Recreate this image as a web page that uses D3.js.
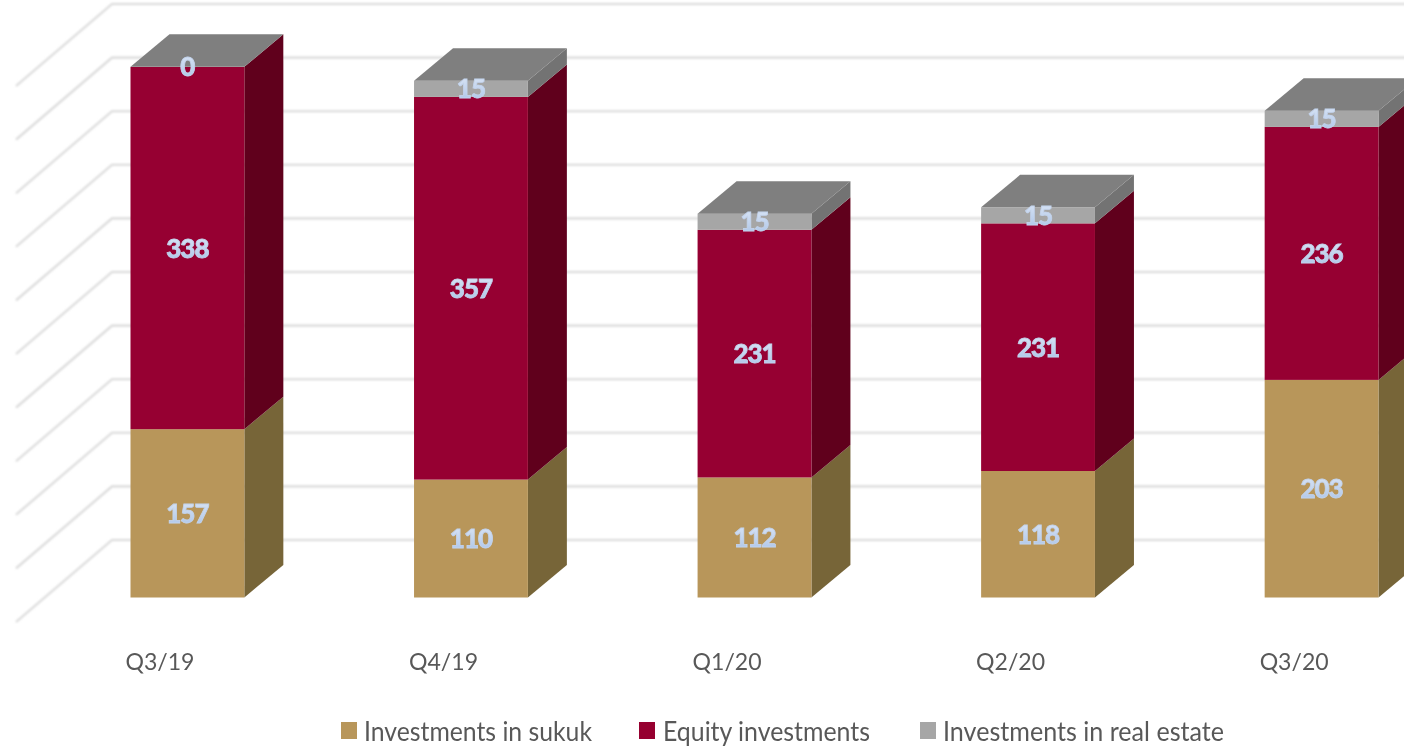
<!DOCTYPE html>
<html>
<head>
<meta charset="utf-8">
<script src="https://cdn.jsdelivr.net/npm/d3@7"></script>
<style>
  html, body { margin: 0; padding: 0; background: #fff; overflow: hidden; }
  svg { display: block; font-family: Lato, "Open Sans", sans-serif; }
</style>
</head>
<body>
<svg id="chart" width="1404" height="747"></svg>
<script>
var quarters = ["Q3/19", "Q4/19", "Q1/20", "Q2/20", "Q3/20"];
var sukuk = [157, 110, 112, 118, 203];
var equity = [338, 357, 231, 231, 236];
var realEstate = [0, 15, 15, 15, 15];
var seriesNames = ["Investments in sukuk", "Equity investments", "Investments in real estate"];
var gridTicks = [0, 50, 100, 150, 200, 250, 300, 350, 400, 450, 500];

var frontColors = ["#b8965a", "#960030", "#a6a6a6"];
var sideColors = ["#776539", "#60001c", "#737373"];
var topColor = "#7f7f7f";

var svg = d3.select("#chart");
var defs = svg.append("defs");

var grad = defs.append("linearGradient")
  .attr("id", "labelFill")
  .attr("x1", 0).attr("y1", 0).attr("x2", 0).attr("y2", 1);
grad.append("stop").attr("offset", "0%").attr("stop-color", "#dfe8f6");
grad.append("stop").attr("offset", "100%").attr("stop-color", "#a9c3e8");

defs.append("filter").attr("id", "soft")
  .append("feGaussianBlur").attr("stdDeviation", 0.6);
defs.append("filter").attr("id", "softer")
  .append("feGaussianBlur").attr("stdDeviation", 0.8);
defs.append("filter").attr("id", "softText")
  .append("feGaussianBlur").attr("stdDeviation", 0.35);

// bars sit on a plane in front of the back wall, so depth is a fixed offset
var barDepth = {dx: 39, dy: -32.5};
var wall = {dx: 96, dy: -82, left: 16, floorOffset: 24.5};

var x = d3.scaleBand()
  .domain(quarters)
  .range([130.5, 1378.5])
  .paddingInner(0.5985)
  .paddingOuter(0);

var y = d3.scaleLinear()
  .domain([0, 500])
  .range([597.5, 61.5]);

var rows = quarters.map(function(q, i) {
  return {quarter: q, sukuk: sukuk[i], equity: equity[i], realEstate: realEstate[i]};
});
var stacked = d3.stack().keys(["sukuk", "equity", "realEstate"])(rows);

// gridlines: slanted side wall plus the back wall running off to the right
var grid = svg.append("g").attr("filter", "url(#softer)");
grid.selectAll("path")
  .data(gridTicks)
  .enter().append("path")
  .attr("fill", "none")
  .attr("stroke", "#d9d9d9")
  .attr("stroke-width", 2.1)
  .attr("d", function(d) {
    var front = y(d) + wall.floorOffset;
    return "M" + wall.left + "," + front +
      "L" + (wall.left + wall.dx) + "," + (front + wall.dy) +
      "H1420";
  });

var bars = svg.append("g").attr("filter", "url(#soft)");

stacked.forEach(function(layer, s) {
  var g = bars.append("g");

  // right side face
  g.selectAll(".side")
    .data(layer)
    .enter().append("path")
    .attr("class", "side")
    .attr("fill", sideColors[s])
    .attr("d", function(d) {
      var r = x(d.data.quarter) + x.bandwidth();
      return "M" + r + "," + y(d[0]) +
        "L" + (r + barDepth.dx) + "," + (y(d[0]) + barDepth.dy) +
        "V" + (y(d[1]) + barDepth.dy) +
        "L" + r + "," + y(d[1]) + "Z";
    });

  // front face
  g.selectAll(".front")
    .data(layer)
    .enter().append("rect")
    .attr("class", "front")
    .attr("fill", frontColors[s])
    .attr("x", function(d) { return x(d.data.quarter); })
    .attr("y", function(d) { return y(d[1]); })
    .attr("width", x.bandwidth())
    .attr("height", function(d) { return y(d[0]) - y(d[1]); });
});

// top face of each column
bars.append("g").selectAll("path")
  .data(stacked[2])
  .enter().append("path")
  .attr("fill", topColor)
  .attr("d", function(d) {
    var l = x(d.data.quarter), w = x.bandwidth(), t = y(d[1]);
    return "M" + l + "," + t +
      "L" + (l + barDepth.dx) + "," + (t + barDepth.dy) +
      "H" + (l + w + barDepth.dx) +
      "L" + (l + w) + "," + t + "Z";
  });

// value labels
stacked.forEach(function(layer) {
  svg.append("g").attr("filter", "url(#softText)").selectAll("text")
    .data(layer)
    .enter().append("text")
    .attr("x", function(d) { return x(d.data.quarter) + x.bandwidth() / 2; })
    .attr("y", function(d) { return (y(d[0]) + y(d[1])) / 2 + 0.5; })
    .attr("dy", "0.35em")
    .attr("text-anchor", "middle")
    .attr("font-size", 26)
    .attr("font-weight", 900)
    .attr("letter-spacing", -1)
    .attr("fill", "url(#labelFill)")
    .attr("stroke", "#c3d3ec")
    .attr("stroke-width", 0.8)
    .text(function(d) { return d[1] - d[0]; });
});

// category labels are offset to the left of the bars, as in the source
var axisText = svg.append("g").attr("filter", "url(#softText)");
axisText.selectAll("text")
  .data(quarters)
  .enter().append("text")
  .attr("x", function(d) { return x(d) + 29.5; })
  .attr("y", 670)
  .attr("text-anchor", "middle")
  .attr("font-size", 24)
  .attr("textLength", 69)
  .attr("lengthAdjust", "spacingAndGlyphs")
  .attr("fill", "#595959")
  .text(function(d) { return d; });

// legend, text squeezed to the widths in the source
var legendX = [341, 639, 920];
var legendWidths = [228, 207, 281];
var legend = svg.append("g").selectAll("g")
  .data(seriesNames)
  .enter().append("g")
  .attr("transform", function(d, i) { return "translate(" + legendX[i] + ",722)"; });
legend.append("rect")
  .attr("width", 16).attr("height", 17)
  .attr("fill", function(d, i) { return frontColors[i]; });
legend.append("text")
  .attr("x", function(d, i) { return i === 1 ? 24 : 23; })
  .attr("y", 19)
  .attr("font-size", 26)
  .attr("textLength", function(d, i) { return legendWidths[i]; })
  .attr("lengthAdjust", "spacingAndGlyphs")
  .attr("fill", "#595959")
  .attr("filter", "url(#softText)")
  .text(function(d) { return d; });
</script>
</body>
</html>
